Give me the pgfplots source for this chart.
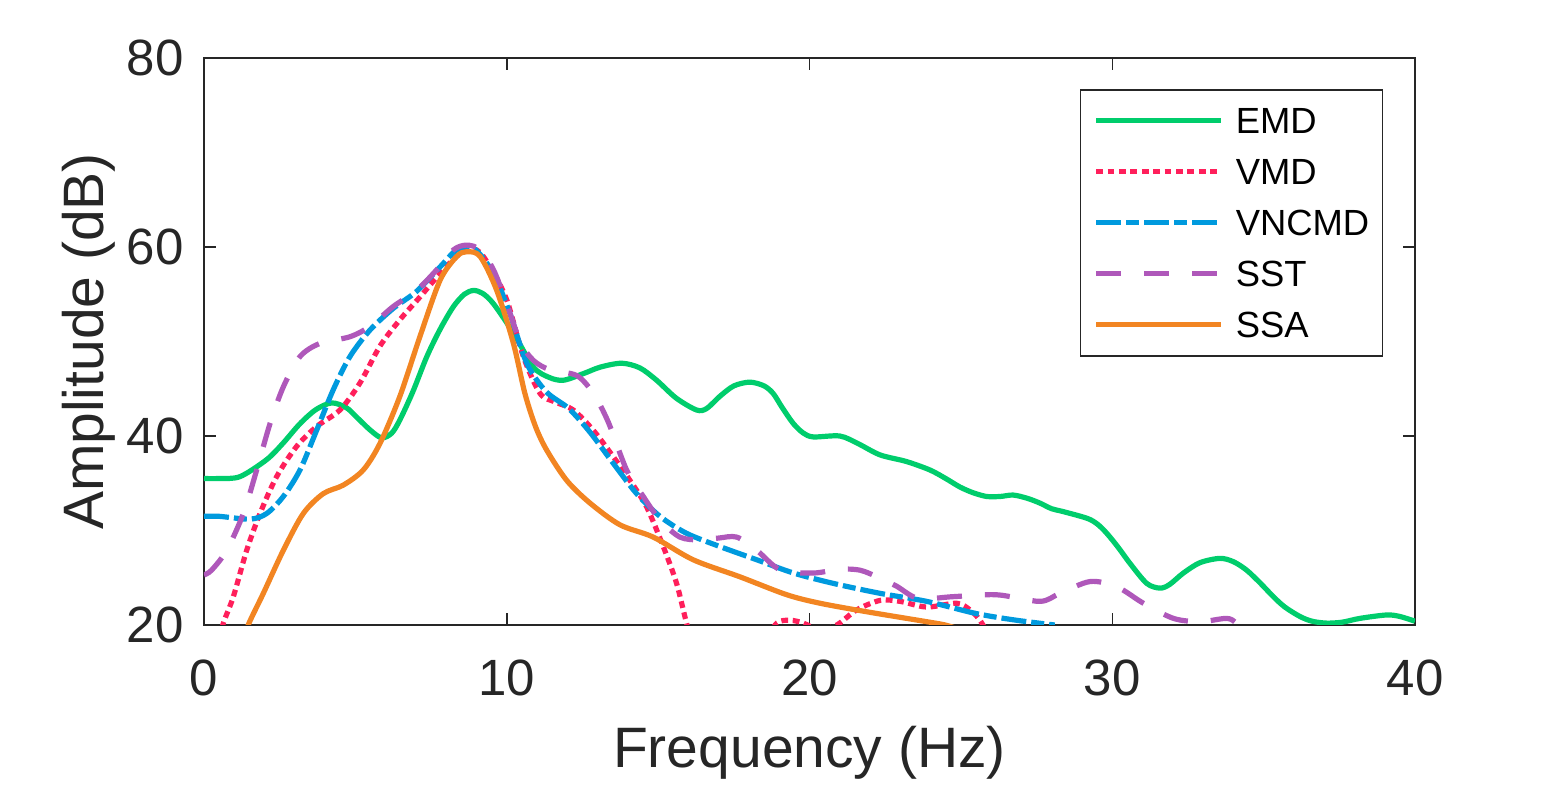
\documentclass[border=0pt]{standalone}
\usepackage{fontspec}
\setmainfont{Liberation Sans}
\usepackage{pgfplots}
\pgfplotsset{compat=1.18}
\definecolor{cEMD}{HTML}{00CD6C}
\definecolor{cVMD}{HTML}{FF1F5B}
\definecolor{cVNC}{HTML}{009ADE}
\definecolor{cSST}{HTML}{AF58BA}
\definecolor{cSSA}{HTML}{F28522}
\definecolor{txt}{HTML}{262626}
\begin{document}
\begin{tikzpicture}
\begin{axis}[name=ax, scale only axis, width=605.5pt, height=283.5pt,
  xmin=0, xmax=40, ymin=20, ymax=80,
  xtick={0,10,20,30,40}, ytick={20,40,60,80},
  tick align=inside, major tick length=5.8pt,
  axis line style={txt, line width=0.75pt},
  tick style={txt, line width=0.75pt},
  /pgf/number format/assume math mode=true,
  ticklabel style={font=\fontsize{25.5}{30}\selectfont, text=txt, inner sep=0pt},
  xticklabel style={anchor=north, yshift=-17.3pt},
  yticklabel style={anchor=east, xshift=-10pt},
  every axis x label/.style={at={(axis description cs:0.5,-0.2522)}, anchor=base, font=\fontsize{28.5}{32}\selectfont, text=txt},
  every axis y label/.style={at={(axis description cs:-0.0826,0.5)}, rotate=90, anchor=base, font=\fontsize{28.5}{32}\selectfont, text=txt},
  xlabel={Frequency (Hz)}, ylabel={Amplitude (dB)},
  legend style={at={(0.9736,0.9453)}, anchor=north east, draw=txt, line width=0.75pt, fill=white,
    inner xsep=6.5pt, inner ysep=9pt, row sep=12.5pt, column sep=6pt,
    font=\fontsize{18.2}{20}\selectfont,
    nodes={inner sep=0pt, text height=13pt, text depth=0pt}},
  legend cell align=left,
  legend image code/.code={\draw[#1] (0pt,0pt) -- (62.5pt,0pt);},
  every axis plot/.append style={line width=2.6pt, line join=round},
]
\addplot[cEMD, smooth, tension=0.5] coordinates {
(0,35.5) (0.5,35.5) (1.19,35.7) (2.07,37.5) (2.6,39.2) (3.17,41.3) (3.7,42.8) (4.22,43.5) (4.7,43.0) (5.04,42.0) (5.5,40.6) (5.87,39.8) (6.2,40.3) (6.47,41.7) (6.9,44.7) (7.36,48.4) (7.8,51.3) (8.24,53.7) (8.6,55.0) (8.9,55.4) (9.2,55.1) (9.56,54.0) (10.22,50.9) (10.88,47.3) (11.4,46.2) (11.87,45.9) (12.53,46.6) (13.1,47.3) (13.8,47.7) (14.4,47.2) (14.95,45.9) (15.6,44.0) (16.27,42.75) (16.6,42.9) (17.04,44.2) (17.5,45.3) (18.03,45.7) (18.5,45.3) (18.8,44.5) (19.1,43.0) (19.47,41.3) (19.8,40.3) (20.13,39.9) (21.0,40.0) (21.6,39.2) (22.33,38.0) (23.2,37.3) (23.98,36.4) (24.5,35.5) (24.97,34.6) (25.4,34.0) (25.85,33.6) (26.3,33.6) (26.73,33.75) (27.2,33.4) (27.61,32.9) (28.0,32.3) (28.38,32.0) (29.16,31.3) (29.5,30.7) (29.82,29.7) (30.2,28.2) (30.59,26.5) (31.14,24.4) (31.58,23.9) (31.9,24.3) (32.35,25.5) (32.9,26.6) (33.56,27.05) (34.0,26.7) (34.44,25.8) (34.9,24.4) (35.32,23.0) (35.7,21.9) (36.2,20.9) (36.6,20.4) (37.08,20.2) (37.6,20.3) (38.18,20.7) (39.06,21.06) (39.5,20.9) (40,20.4)
};
\addlegendentry{EMD}
\addplot[cVMD, smooth, tension=0.5, dash pattern=on 3.4pt off 2.3pt] coordinates {
(0.4,17.3) (0.64,20.2) (0.97,23.0) (1.41,27.9) (1.85,31.8) (2.4,35.7) (3.06,38.9) (3.72,41.0) (4.49,42.75) (5.15,45.6) (5.81,49.5) (6.47,52.3) (7.13,54.7) (7.8,57.2) (8.46,59.3) (9.0,59.7) (9.45,57.9) (10.0,54.4) (10.55,48.4) (11.1,44.5) (11.6,43.6) (12.2,42.75) (12.86,40.6) (13.52,37.8) (14.07,35.3) (14.62,32.5) (15.17,28.3) (15.61,24.4) (15.94,20.2) (16.3,16.5) (17.5,14.0) (18.5,18.0) (18.92,20.2) (19.36,20.5) (19.8,20.2) (20.3,19.5) (20.9,20.0) (21.56,21.6) (22.33,22.6) (22.99,22.5) (23.87,21.9) (24.86,22.3) (25.3,21.6) (25.63,20.5) (26.0,18.5)
};
\addlegendentry{VMD}
\addplot[cVNC, smooth, tension=0.5, dash pattern=on 12.5pt off 2.5pt on 6.5pt off 2.5pt] coordinates {
(0,31.5) (0.5,31.5) (1.52,31.2) (2.07,31.8) (2.62,33.6) (3.17,36.4) (3.72,40.6) (4.27,44.9) (4.82,48.4) (5.48,51.2) (6.25,53.5) (7.02,55.3) (7.8,57.9) (8.35,59.7) (8.9,59.9) (9.56,57.2) (10.1,53.0) (10.66,47.7) (11.3,44.7) (12.05,42.9) (12.75,40.4) (13.52,37.1) (14.29,33.9) (15.06,31.5) (15.94,29.7) (17.04,28.3) (18.26,26.9) (19.47,25.5) (20.79,24.4) (22.33,23.35) (23.87,22.5) (25.52,21.2) (26.84,20.5) (28.1,20.0)
};
\addlegendentry{VNCMD}
\addplot[cSST, smooth, tension=0.5, dash pattern=on 12.5pt off 11.5pt] coordinates {
(0,25.3) (0.25,25.8) (0.75,27.9) (1.3,31.8) (1.74,36.4) (2.18,41.3) (2.62,45.2) (3.17,48.4) (3.83,49.8) (4.82,50.5) (5.48,51.6) (6.25,53.7) (7.02,55.4) (7.69,57.6) (8.24,59.7) (8.68,60.2) (9.12,59.7) (9.56,57.6) (10.0,54.0) (10.44,50.0) (10.88,48.0) (11.43,47.0) (12.31,46.4) (12.86,44.5) (13.35,41.5) (13.96,36.4) (14.51,33.6) (15.06,31.1) (15.72,29.3) (16.38,29.0) (17.0,29.2) (17.6,29.3) (18.26,27.9) (19.05,25.8) (20.13,25.5) (21.0,25.9) (21.67,25.8) (22.3,25.0) (22.88,24.1) (23.6,22.8) (24.75,23.0) (26.18,23.2) (27.61,22.5) (28.27,23.35) (29.27,24.6) (30.15,24.05) (31.03,22.3) (32.02,20.7) (32.9,20.35) (33.78,20.7) (34.1,20.2) (34.5,19.0)
};
\addlegendentry{SST}
\addplot[cSSA, smooth, tension=0.5] coordinates {
(1.2,17.5) (1.46,20) (1.96,23.35) (2.62,27.9) (3.28,31.8) (3.94,33.9) (4.6,34.8) (5.26,36.4) (5.81,39.2) (6.47,44.2) (7.13,50.5) (7.8,56.5) (8.35,59.0) (8.68,59.5) (9.12,59.0) (9.67,55.4) (10.22,49.8) (10.6,44.5) (10.95,41.0) (11.32,38.5) (11.98,35.3) (12.75,32.9) (13.74,30.6) (14.84,29.3) (16.16,26.9) (17.7,25.1) (19.25,23.2) (20.35,22.3) (21.89,21.4) (23.87,20.35) (24.48,20.0) (25,19.5)
};
\addlegendentry{SSA}
\end{axis}
\path ([shift={(-102pt,-78pt)}]ax.south west) rectangle ([shift={(74pt,29pt)}]ax.north east);
\end{tikzpicture}
\end{document}
